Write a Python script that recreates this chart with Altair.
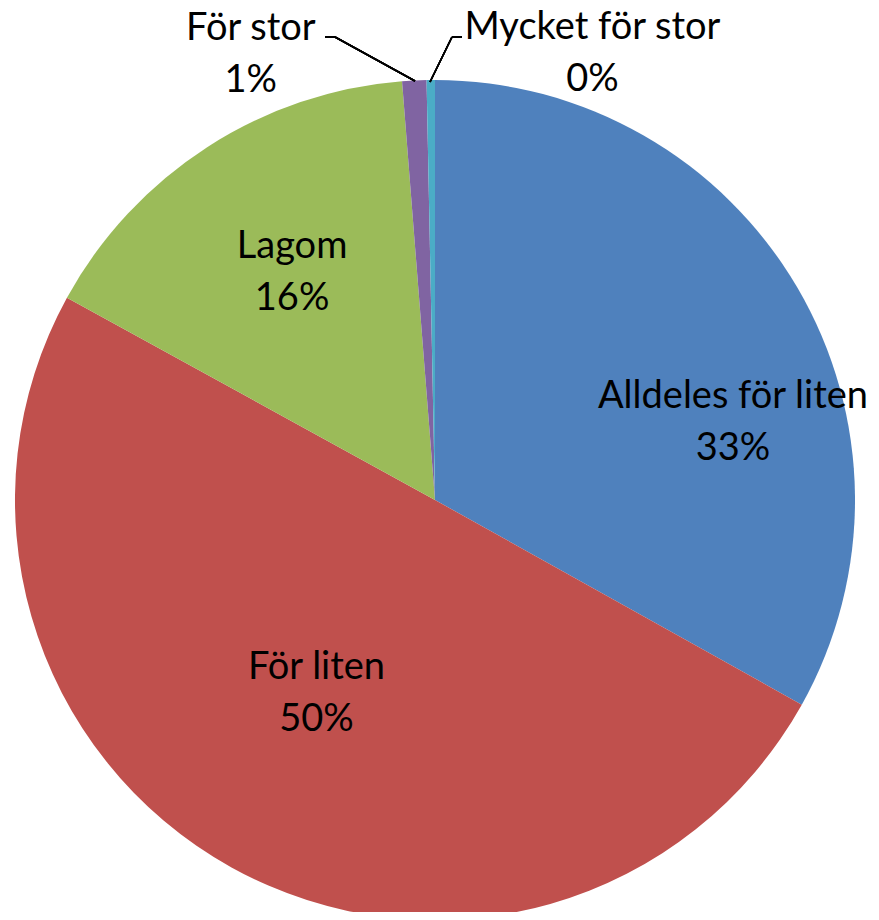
import altair as alt
import pandas as pd

categories = ["Alldeles för liten", "För liten", "Lagom", "För stor", "Mycket för stor"]
values = [33.1, 49.9, 15.75, 0.93, 0.32]
pct_labels = ["33%", "50%", "16%", "1%", "0%"]
colors = ["#4F81BD", "#C0504D", "#9BBB59", "#8064A2", "#4BACC6"]

df = pd.DataFrame({
    "category": categories,
    "value": values,
    "label": [c + "\n" + p for c, p in zip(categories, pct_labels)],
    "order": list(range(len(categories))),
})

CX, CY, R = 427, 492, 420
FONT = "Lato"
FS = 38
LH = 52

base = alt.Chart(df).encode(
    theta=alt.Theta("value:Q", stack=True),
    order=alt.Order("order:Q"),
    x=alt.value(CX),
    y=alt.value(CY),
)

pie = base.mark_arc(radius=R).encode(
    color=alt.Color("category:N",
                    scale=alt.Scale(domain=categories, range=colors),
                    legend=None)
)

# label placement per slice: (category, radius, dx, dy)
label_specs = [
    ("Alldeles för liten", 298, 41, 74),
    ("För liten", 226, -9, -4),
    ("Lagom", 269, 3, -1),
    ("För stor", 450, -162, 4),
    ("Mycket för stor", 450, 162, 4),
]

layers = [pie]
for cat, rad, dx, dy in label_specs:
    layers.append(
        base.mark_text(radius=rad, dx=dx, dy=dy - LH / 2, font=FONT, fontSize=FS,
                       lineBreak="\n", lineHeight=LH, align="center",
                       baseline="middle", color="black").encode(
            text=alt.condition(alt.datum.category == cat,
                               alt.Text("label:N"), alt.value(""))
        )
    )

rule_style = dict(color="black", strokeWidth=1.5)
leaders = [
    alt.Chart(df).mark_rule(**rule_style).encode(
        x=alt.value(317), x2=alt.value(327), y=alt.value(29), y2=alt.value(29)),
    alt.Chart(df).mark_rule(**rule_style).encode(
        x=alt.value(327), x2=alt.value(407), y=alt.value(29), y2=alt.value(73)),
    alt.Chart(df).mark_rule(**rule_style).encode(
        x=alt.value(454), x2=alt.value(444), y=alt.value(29), y2=alt.value(29)),
    alt.Chart(df).mark_rule(**rule_style).encode(
        x=alt.value(444), x2=alt.value(422), y=alt.value(29), y2=alt.value(74)),
]

chart = alt.layer(*layers, *leaders).properties(
    width=863, height=904, padding=0, autosize=alt.AutoSizeParams(type="none")
).configure_view(stroke=None)

chart.save("out.html", embed_options={"renderer": "svg", "actions": False})
